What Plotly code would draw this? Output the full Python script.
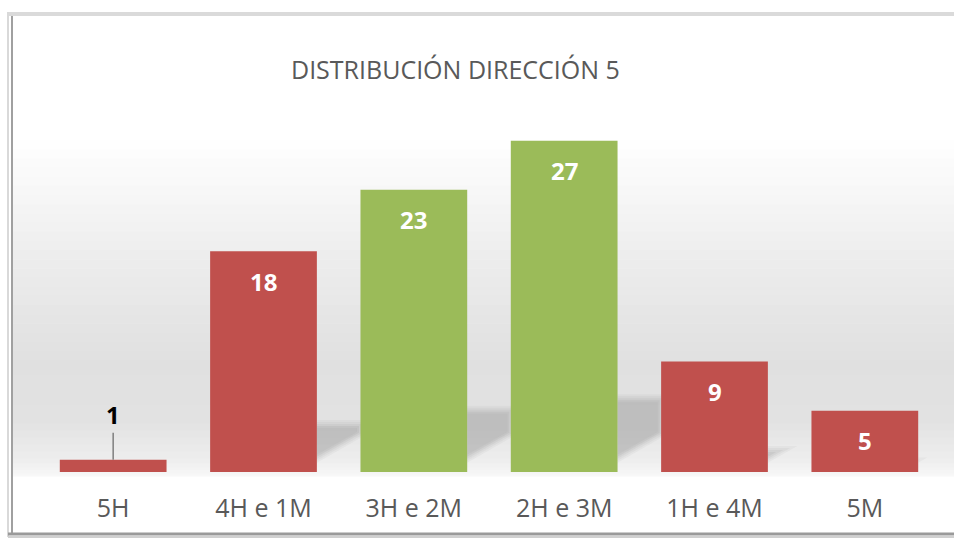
import plotly.graph_objects as go

categories = ["5H", "4H e 1M", "3H e 2M", "2H e 3M", "1H e 4M", "5M"]
values = [1, 18, 23, 27, 9, 5]
bar_colors = ["#C0504D", "#C0504D", "#9BBB59", "#9BBB59", "#C0504D", "#C0504D"]
title_text = "DISTRIBUCIÓN DIRECCIÓN 5"

W, H = 954, 538
L, R, T, B = 38, 14, 104, 66
PW, PH = W - L - R, H - T - B
YMAX = 30
UPX_Y = YMAX / PH          # data units per pixel (y)
UPX_X = 6 / PW             # category units per pixel (x)


def xp(px):
    return (px - L) / PW


def yp(py):
    return (H - B - py) / PH


fig = go.Figure()
fig.add_trace(go.Bar(
    x=categories, y=values, marker=dict(color=bar_colors, line=dict(width=0)),
    width=0.71, hoverinfo="skip", showlegend=False,
))

shapes = []
# background gradient (wall + floor)
stops = [(140, 255), (250, 238), (360, 224), (420, 226), (462, 238), (476, 248)]
for k in range(len(stops) - 1):
    (y0, c0), (y1, c1) = stops[k], stops[k + 1]
    n = 12
    for j in range(n):
        a = y0 + (y1 - y0) * j / n
        b = y0 + (y1 - y0) * (j + 1) / n
        c = round(c0 + (c1 - c0) * (j + 0.5) / n)
        shapes.append(dict(type="rect", xref="paper", yref="paper",
                           x0=xp(12), x1=xp(954), y0=yp(b + 0.5), y1=yp(a),
                           fillcolor=f"rgb({c},{c},{c})", line=dict(width=0),
                           layer="below"))

# soft cast shadows to the right of each bar (decoration)
half_w = 0.355
for i, v in enumerate(values):
    top = 0.235 * v
    b0 = 0.75
    slope = 7.0
    if top <= b0 + 0.3:
        continue
    xr = i + half_w
    D = min(0.32, (top - b0) / slope + 0.02)
    for inset, op in [(0, 0.05), (2, 0.06), (4, 0.07), (6, 0.08), (8, 0.05)]:
        dy = inset * UPX_Y
        dx = inset * UPX_X
        t = top - dy
        bb = b0 + dy
        x1 = xr + D - dx
        yb1 = bb + slope * (D - dx)
        if yb1 > t:
            x1 = xr + (t - bb) / slope
            yb1 = t
        if x1 <= xr:
            continue
        path = f"M {xr} {bb} L {xr} {t} L {x1} {t} L {x1} {yb1} Z"
        shapes.append(dict(type="path", xref="x", yref="y", layer="below",
                           path=path, fillcolor=f"rgba(95,95,95,{op})",
                           line=dict(width=0)))

# frame
shapes.append(dict(type="line", xref="paper", yref="paper", x0=xp(7), x1=xp(960),
                   y0=yp(14), y1=yp(14), line=dict(color="#dadada", width=4), layer="above"))
shapes.append(dict(type="line", xref="paper", yref="paper", x0=xp(8), x1=xp(8),
                   y0=yp(12), y1=yp(537), line=dict(color="#d9d9d9", width=2), layer="above"))
shapes.append(dict(type="line", xref="paper", yref="paper", x0=xp(12), x1=xp(12),
                   y0=yp(16), y1=yp(534), line=dict(color="#a0a0a0", width=2), layer="above"))
shapes.append(dict(type="line", xref="paper", yref="paper", x0=xp(8), x1=xp(960),
                   y0=yp(534), y1=yp(534), line=dict(color="#9a9a9a", width=3), layer="above"))
shapes.append(dict(type="line", xref="paper", yref="paper", x0=xp(8), x1=xp(960),
                   y0=yp(537), y1=yp(537), line=dict(color="#d0d0d0", width=2), layer="above"))

annotations = []
for c, v in zip(categories, values):
    if v >= 3:
        annotations.append(dict(x=c, y=v, xref="x", yref="y", text=f"<b>{v}</b>",
                                showarrow=False, yshift=-30,
                                font=dict(family="Open Sans", size=24, color="white")))
    else:
        annotations.append(dict(x=c, y=v, xref="x", yref="y", text=f"<b>{v}</b>",
                                showarrow=True, arrowhead=0, ax=0, ay=-45,
                                arrowcolor="#7f7f7f", arrowwidth=1.5, standoff=0,
                                font=dict(family="Open Sans", size=24, color="black")))

annotations.append(dict(x=xp(455), y=yp(69), xref="paper", yref="paper",
                        xanchor="center", yanchor="middle",
                        text=title_text, showarrow=False,
                        font=dict(family="Open Sans", size=25, color="#595959")))

fig.update_layout(
    width=W, height=H,
    margin=dict(l=L, r=R, t=T, b=B, pad=0),
    paper_bgcolor="white", plot_bgcolor="white",
    shapes=shapes, annotations=annotations,
    bargap=0.29,
    xaxis=dict(showgrid=False, zeroline=False, showline=False, ticks="",
               tickfont=dict(family="Open Sans", size=25, color="#595959"),
               ticklabelstandoff=19, range=[-0.5, 5.5], fixedrange=True),
    yaxis=dict(range=[0, YMAX], showgrid=False, zeroline=False, showline=False,
               showticklabels=False, ticks="", fixedrange=True),
)

fig.write_html("out.html",
               config={"displayModeBar": False, "staticPlot": True},
               post_script="document.body.style.margin='0';document.body.style.overflow='hidden';")
